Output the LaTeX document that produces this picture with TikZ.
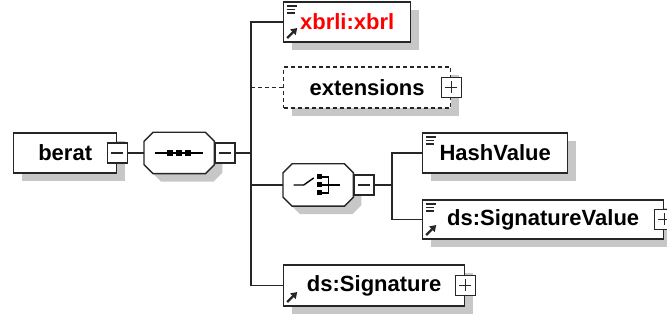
\documentclass[tikz,border=0pt]{standalone}
\usepackage{fontspec}
\setmainfont{Liberation Sans}
\usetikzlibrary{positioning,shadows,arrows.meta}
\newcommand\listmark{\draw[line width=1.4pt] ([shift={(3,4)}]path picture bounding box.north west) -- ++(10,0) ++(-10,3.5) -- ++(8,0) ++(-8,3.5) -- ++(8,0);}
\newcommand\linkmark{\draw[line width=2.2pt,-{Triangle[length=6pt,width=7.5pt]}] ([shift={(3.5,-4)}]path picture bounding box.south west) -- ++(10,-10);}
\newcommand\octpath[1]{([xshift=9pt]#1.north west) -- ([xshift=-9pt]#1.north east) -- ([yshift=-9pt]#1.north east) -- ([yshift=9pt]#1.south east) -- ([xshift=-9pt]#1.south east) -- ([xshift=9pt]#1.south west) -- ([yshift=9pt]#1.south west) -- ([yshift=-9pt]#1.north west) -- cycle}
\tikzset{boxshadow/.style={drop shadow={shadow xshift=8pt,shadow yshift=-8pt,fill=black!22,opacity=1}}}
\tikzset{element/.style={draw=black!85,fill=white,boxshadow,inner sep=0pt,minimum height=40pt,anchor=west,font=\fontsize{22}{26}\selectfont\bfseries}}
\tikzset{optional/.style={element,dash pattern=on 4pt off 3pt}}
\tikzset{compositor/.style={rectangle,inner sep=0pt,minimum width=69pt,minimum height=40pt,anchor=west}}
\tikzset{octagon/.style={draw=black!85,fill=white,boxshadow}}
\tikzset{listed/.style={path picture={\listmark}}}
\tikzset{linked/.style={path picture={\linkmark}}}
\tikzset{listlinked/.style={path picture={\listmark\linkmark}}}
\tikzset{minus/.style={draw=black!85,fill=white,inner sep=0pt,minimum size=20pt,path picture={\draw ([xshift=-6pt]path picture bounding box.center) -- ++(12,0);}}}
\tikzset{plus/.style={draw=black!85,fill=white,inner sep=0pt,minimum size=20pt,path picture={\draw ([xshift=-6pt]path picture bounding box.center) -- ++(12,0) ([yshift=6pt]path picture bounding box.center) -- ++(0,12);}}}
\tikzset{link/.style={draw=black!85}}

\begin{document}
\begin{tikzpicture}[x=1pt,y=-1pt,line width=1.4pt]
  \useasboundingbox (0,0) rectangle (667,320);
  % root and its sequence
  \node[element,minimum width=103pt] (berat) at (13,153) {berat};
  \node[minus] (bminus) at (berat.east) {};
  \node[compositor] (seq) at (144,153) {};
  \draw[octagon] \octpath{seq};
  \node[minus,right=0pt of seq] (sminus) {};
  \draw ([xshift=-24pt]seq.center) -- ([xshift=24pt]seq.center);
  \foreach \dx in {-9,0,9}
    \fill ([xshift=\dx pt]seq.center) +(-3,-3) rectangle +(3,3);
  % children
  \node[element,listlinked,text=red,minimum width=127pt] (xbrl) at (283,22) {xbrli:xbrl};
  \node[optional,minimum width=167pt,minimum height=41pt] (ext) at (283,87.5) {extensions};
  \node[plus] (eplus) at (ext.east) {};
  \node[compositor,minimum height=41pt] (choice) at (283,185) {};
  \draw[octagon] \octpath{choice};
  \node[minus,right=0pt of choice] (cminus) {};
  \draw ([xshift=-24.5pt]choice.center) -- ++(10,0) -- ++(10,-7);
  \foreach \dy in {-8,0,8}
    \fill ([shift={(1.5,\dy)}]choice.center) +(-2.5,-2.5) rectangle +(2.5,2.5);
  \draw ([shift={(3.5,-8)}]choice.center) -- ++(7,0) -- ++(0,16) -- ++(-7,0);
  \draw ([shift={(3.5,0)}]choice.center) -- ++(18,0);
  \node[element,linked,minimum width=181pt,minimum height=41pt] (sig) at (283,285.5) {ds:Signature};
  \node[plus] (splus) at (sig.east) {};
  % choice children
  \node[element,listed,minimum width=145pt] (hash) at (422,153) {HashValue};
  \node[element,listlinked,minimum width=241pt,minimum height=39pt] (sigval) at (422,219.5) {ds:SignatureValue};
  \node[plus] (vplus) at (sigval.east) {};
  % connectors
  \coordinate (t0) at (251,153);
  \coordinate (t1) at (392,185);
  \draw[link] (bminus) -- (seq);
  \draw[link] (sminus) -- (t0);
  \draw[link] (xbrl.west) -| (t0);
  \draw[link] (sig.west) -| (t0);
  \draw[link] (choice.west) -| (t0);
  \draw[link,dash pattern=on 4pt off 3pt] (ext.west) -- (ext.west -| t0);
  \draw[link] (cminus) -- (t1);
  \draw[link] (hash.west) -| (t1);
  \draw[link] (sigval.west) -| (t1);
\end{tikzpicture}
\end{document}
